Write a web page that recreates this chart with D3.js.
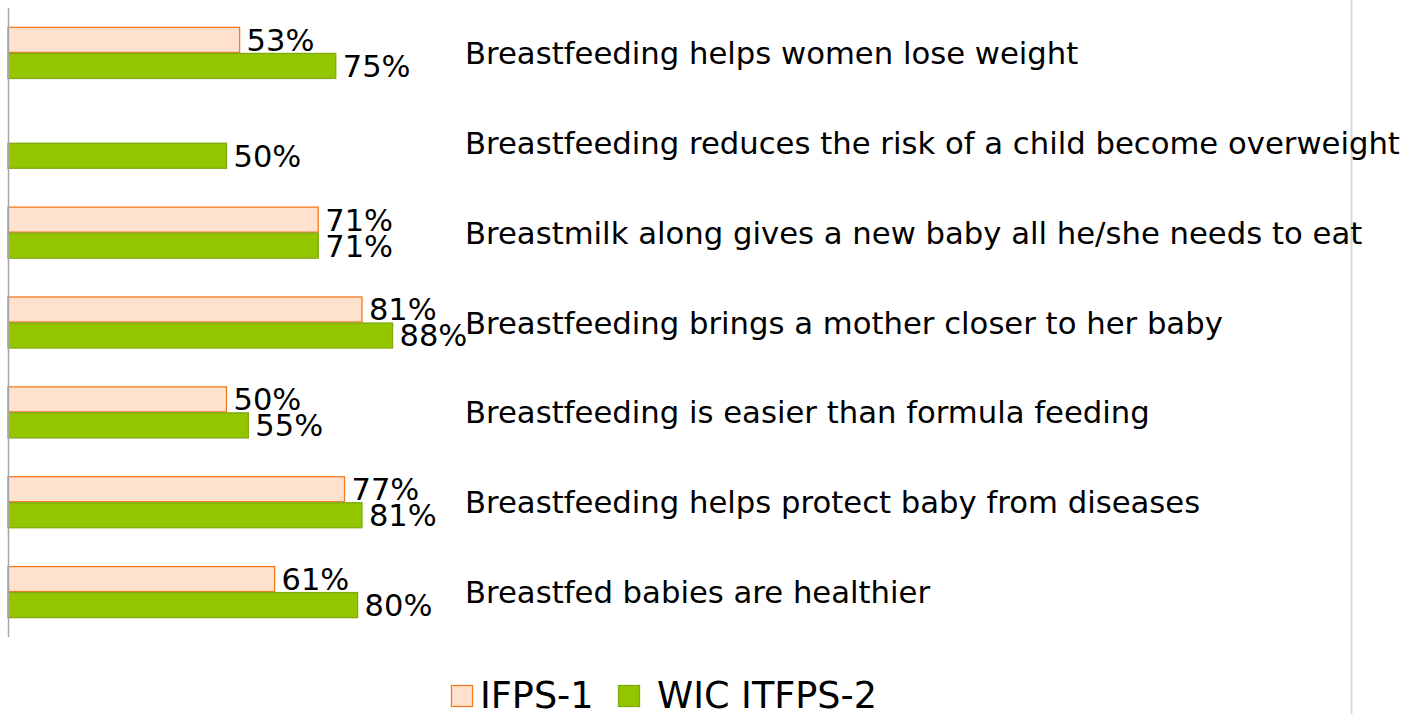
<!DOCTYPE html>
<html>
<head>
<meta charset="utf-8">
<script src="https://cdn.jsdelivr.net/npm/d3@7"></script>
<style>
  body { margin: 0; background: #fff; }
  text { font-family: "DejaVu Sans", sans-serif; fill: #000; }
</style>
</head>
<body>
<div id="chart"></div>
<script>
/* Data */
var categories = [
    "Breastfeeding helps women lose weight",
    "Breastfeeding reduces the risk of a child become overweight",
    "Breastmilk along gives a new baby all he/she needs to eat",
    "Breastfeeding brings a mother closer to her baby",
    "Breastfeeding is easier than formula feeding",
    "Breastfeeding helps protect baby from diseases",
    "Breastfed babies are healthier"
];
var seriesNames = ["IFPS-1", "WIC ITFPS-2"];
var ifps1 = [53, null, 71, 81, 50, 77, 61];
var wic2 = [75, 50, 71, 88, 55, 81, 80];

var fills = ["#FFE2CE", "#93C500"];
var strokes = ["#F47A20", "#7FAA10"];

var width = 1408, height = 714;

var svg = d3.select("#chart").append("svg")
    .attr("width", width)
    .attr("height", height);

// scales
var x = d3.scaleLinear().domain([0, 100]).range([8, 445]);
var y = d3.scaleBand().domain(categories).range([8, 637]);
var y1 = d3.scaleBand().domain(seriesNames).range([0, y.bandwidth()]).paddingOuter(0.727);

// right border line
svg.append("line")
    .attr("x1", 1351.5).attr("x2", 1351.5)
    .attr("y1", 0).attr("y2", height)
    .style("stroke", "#d9d9d9").style("stroke-width", 2);

var rows = categories.map(function (c, i) {
    return { cat: c, vals: [ifps1[i], wic2[i]] };
});

var g = svg.append("g");

rows.forEach(function (r) {
    r.vals.forEach(function (v, j) {
        if (v == null) return;
        var yy = y(r.cat) + y1(seriesNames[j]);
        g.append("rect")
            .attr("x", x(0))
            .attr("y", yy + 0.5)
            .attr("width", x(v) - x(0))
            .attr("height", y1.bandwidth() - 1)
            .style("fill", fills[j])
            .style("stroke", strokes[j])
            .style("stroke-width", 1.3);
    });
});

// axis line
svg.append("line")
    .attr("x1", 8.5).attr("x2", 8.5)
    .attr("y1", 8).attr("y2", 637)
    .style("stroke", "#a6a6a6").style("stroke-width", 1.5);

// value labels
rows.forEach(function (r) {
    r.vals.forEach(function (v, j) {
        if (v == null) return;
        var yy = y(r.cat) + y1(seriesNames[j]) + y1.bandwidth() / 2;
        svg.append("text")
            .attr("x", x(v) + 7)
            .attr("y", yy)
            .attr("dy", "0.36em")
            .style("font-size", "30.5px")
            .text(v + "%");
    });
});

// category labels
svg.selectAll(".cat").data(categories).enter().append("text")
    .attr("class", "cat")
    .attr("x", 465)
    .attr("y", function (d) { return y(d) + y.bandwidth() / 2; })
    .attr("dy", "0.36em")
    .style("font-size", "30.7px")
    .text(function (d) { return d; });

// legend
var legendX = [451, 618];
var legend = svg.selectAll(".leg").data(seriesNames).enter().append("g")
    .attr("class", "leg")
    .attr("transform", function (d, i) { return "translate(" + legendX[i] + ",685)"; });
legend.append("rect")
    .attr("x", 0.5).attr("y", 0.5)
    .attr("width", 21).attr("height", 21)
    .style("fill", function (d, i) { return fills[i]; })
    .style("stroke", function (d, i) { return strokes[i]; })
    .style("stroke-width", 1.3);
legend.append("text")
    .attr("x", function (d, i) { return i === 0 ? 29 : 39; })
    .attr("y", 23)
    .style("font-size", "36.6px")
    .text(function (d) { return d; });
</script>
</body>
</html>
